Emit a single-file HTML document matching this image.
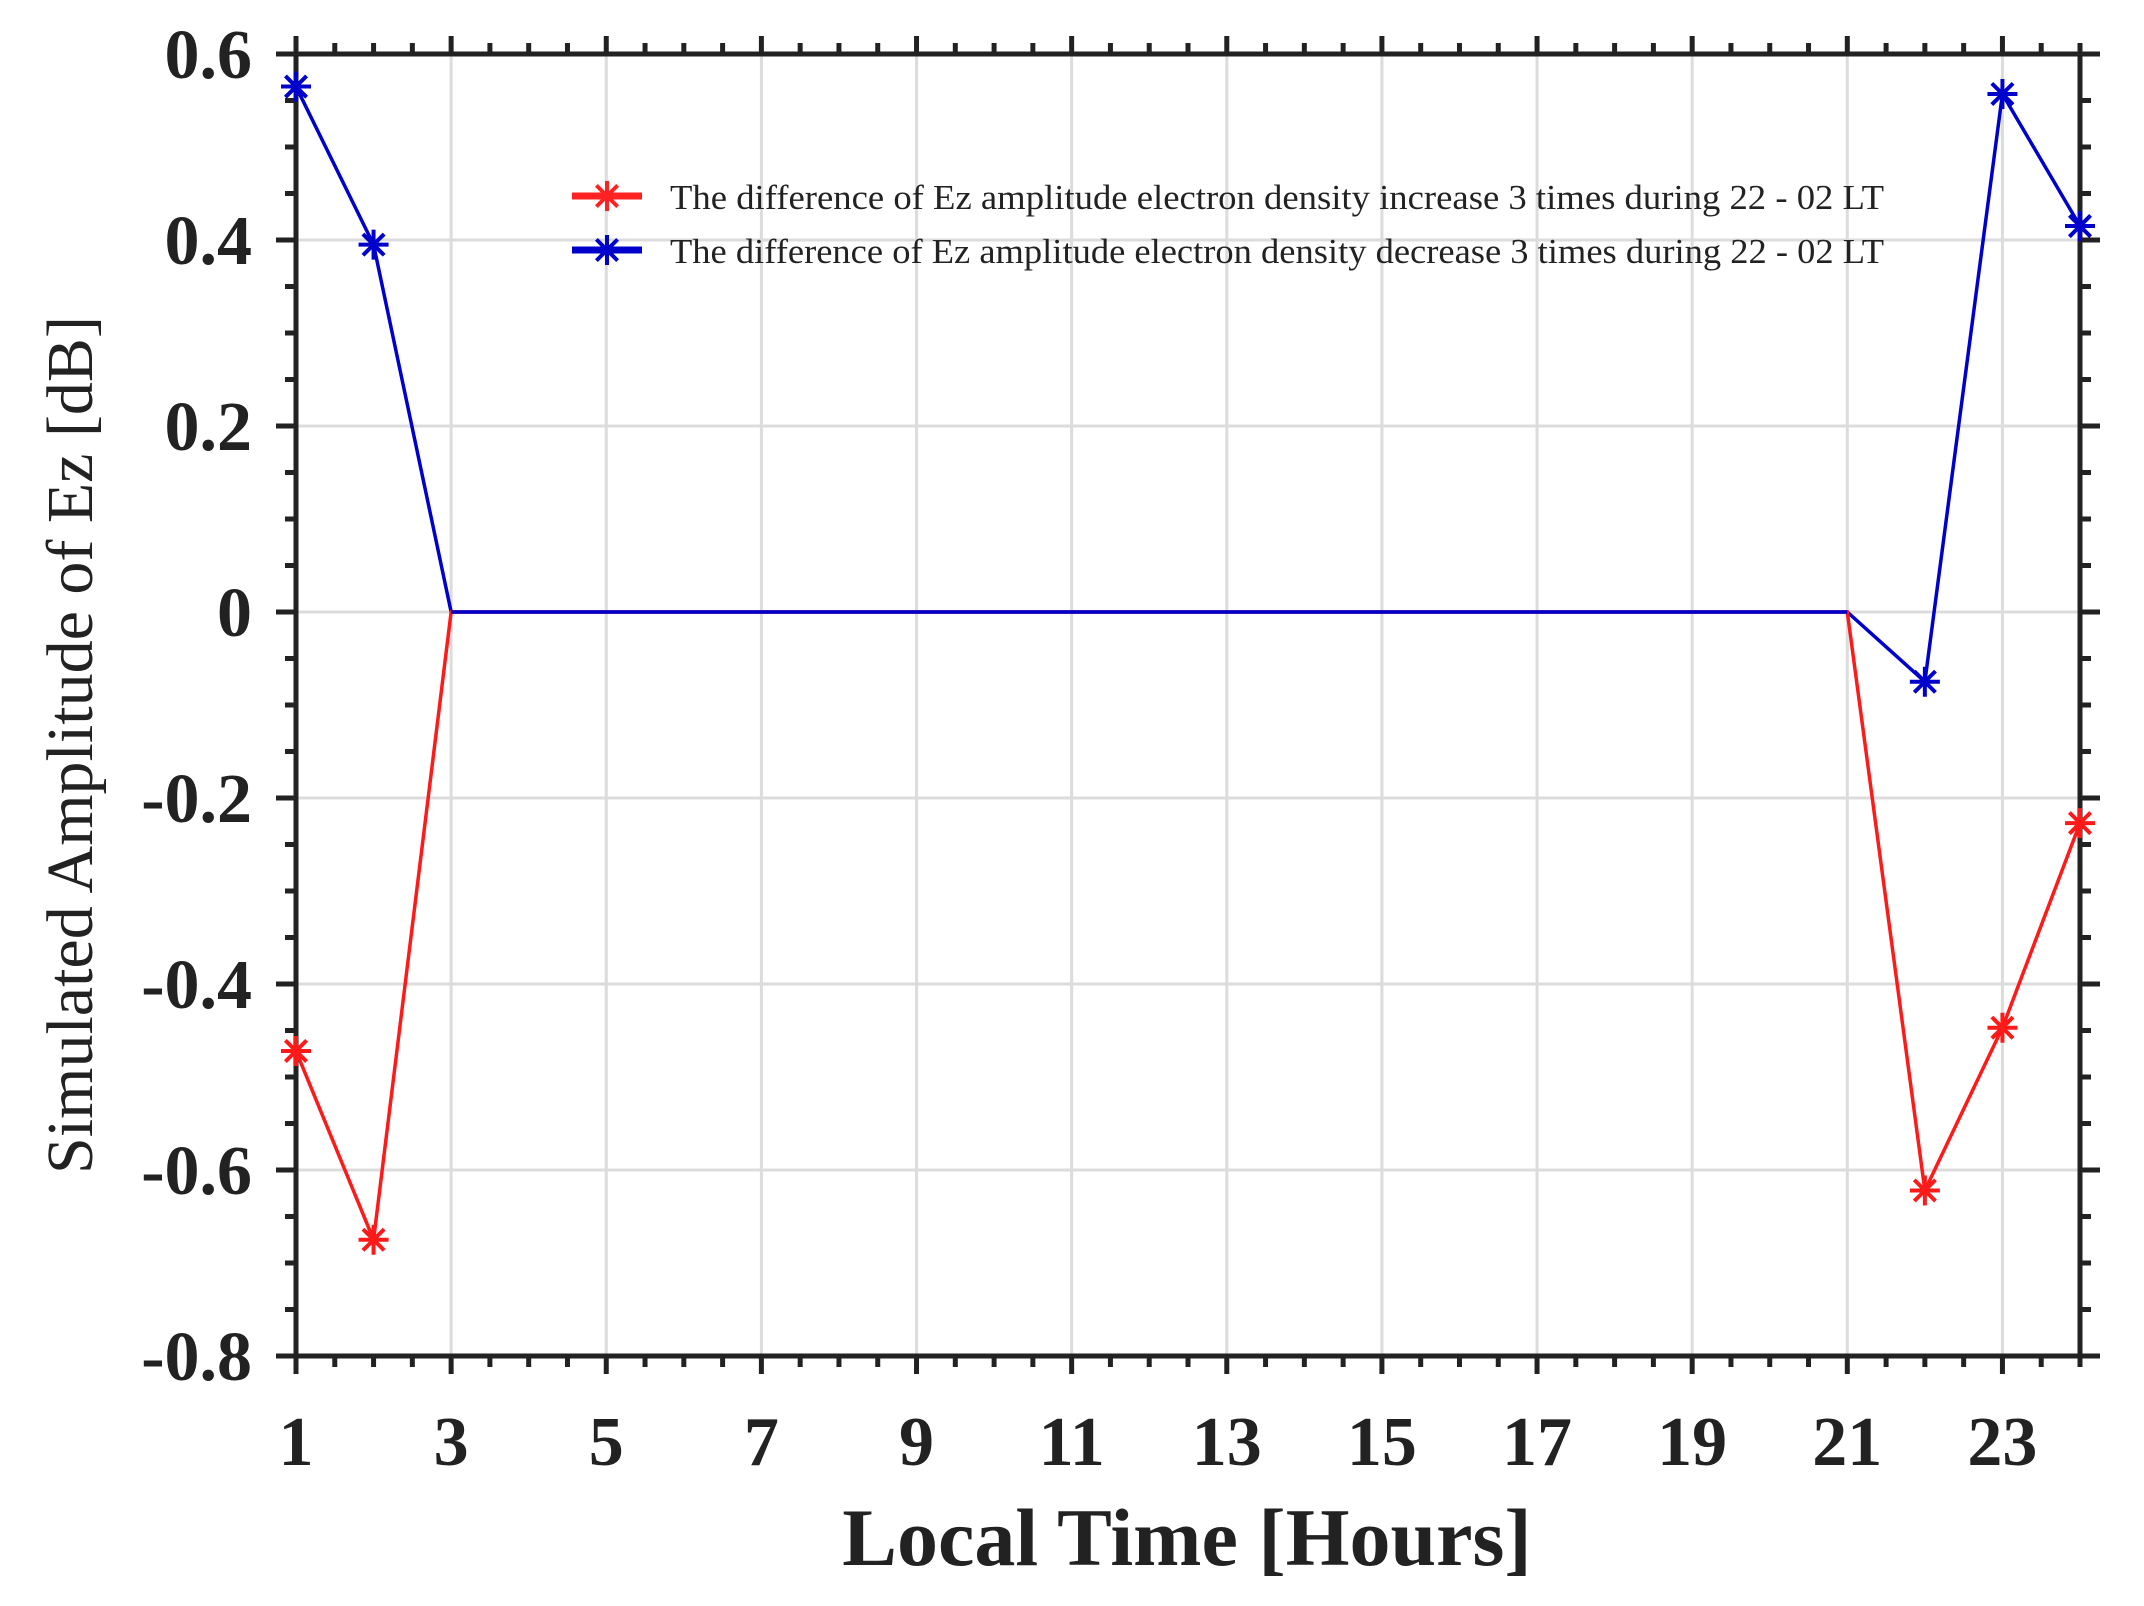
<!DOCTYPE html>
<html><head><meta charset="utf-8"><style>html,body{margin:0;padding:0;background:#fff}svg{display:block}</style></head>
<body>
<svg xmlns="http://www.w3.org/2000/svg" width="2144" height="1606" viewBox="0 0 2144 1606">
<g id="grid" stroke="#dcdcdc" stroke-width="3"></g>
<g id="ticks" stroke="#222" stroke-width="5"></g>
<rect x="296" y="54" width="1784" height="1302" fill="none" stroke="#222" stroke-width="5"/>
<g id="lab" font-family="Liberation Serif, serif" font-weight="bold" font-size="70" fill="#222"></g>
<g id="series"></g>
<text x="1187" y="1565" text-anchor="middle" font-family="Liberation Serif, serif" font-weight="bold" font-size="82" fill="#222">Local Time [Hours]</text>
<text transform="translate(92,745) rotate(-90)" text-anchor="middle" font-family="Liberation Serif, serif" font-size="66" fill="#222">Simulated Amplitude of Ez [dB]</text>
<line x1="572" y1="196" x2="642" y2="196" stroke="#f22" stroke-width="7"/>
<line x1="572" y1="250" x2="642" y2="250" stroke="#00c" stroke-width="7"/>
<g id="leg"></g>
<text x="670" y="209" font-family="Liberation Serif, serif" font-size="35" fill="#222" textLength="1214" lengthAdjust="spacingAndGlyphs">The difference of Ez amplitude electron density increase 3 times during 22 - 02 LT</text>
<text x="670" y="263" font-family="Liberation Serif, serif" font-size="35" fill="#222" textLength="1214" lengthAdjust="spacingAndGlyphs">The difference of Ez amplitude electron density decrease 3 times during 22 - 02 LT</text>
</svg>
<script>
const NS="http://www.w3.org/2000/svg";
const X=h=>296+(h-1)*(1784/23), Y=v=>54+(0.6-v)*930;
function el(p,t,a){const e=document.createElementNS(NS,t);for(const k in a)e.setAttribute(k,a[k]);document.getElementById(p).appendChild(e);return e;}
for(let h=3;h<=23;h+=2)el("grid","line",{x1:X(h),y1:56,x2:X(h),y2:1354});
for(let v=-0.6;v<0.55;v+=0.2)el("grid","line",{x1:298,y1:Y(v),x2:2078,y2:Y(v)});
for(let i=0;i<=46;i++){const h=1+i/2,x=X(h),L=(i%4==0)?18:11;
el("ticks","line",{x1:x,y1:1356,x2:x,y2:1356+L});el("ticks","line",{x1:x,y1:54,x2:x,y2:54-L});}
for(let i=0;i<=28;i++){const v=0.6-i*0.05,y=Y(v),L=(i%4==0)?20:11;
el("ticks","line",{x1:296,y1:y,x2:296-L,y2:y});el("ticks","line",{x1:2080,y1:y,x2:2080+L,y2:y});}
for(let h=1;h<=23;h+=2){const t=el("lab","text",{x:X(h),y:1465,"text-anchor":"middle"});t.textContent=h;}
const yl=["0.6","0.4","0.2","0","-0.2","-0.4","-0.6","-0.8"];
yl.forEach((s,i)=>{const t=el("lab","text",{x:252,y:54+i*186+24,"text-anchor":"end"});t.textContent=s;});
function star(p,x,y,col){for(let a=0;a<180;a+=45){const r=a*Math.PI/180,dx=15*Math.cos(r),dy=15*Math.sin(r);
el(p,"line",{x1:x-dx,y1:y-dy,x2:x+dx,y2:y+dy,stroke:col,"stroke-width":4});}}
function series(data,col){let pts=data.map(d=>X(d[0])+","+Y(d[1])).join(" ");
el("series","polyline",{points:pts,fill:"none",stroke:col,"stroke-width":3.5});
data.filter(d=>d[2]).forEach(d=>star("series",X(d[0]),Y(d[1]),col));}
series([[1,0.565,1],[2,0.395,1],[3,0],[21,0],[22,-0.075,1],[23,0.557,1],[24,0.415,1]],"#0000cc");
series([[1,-0.472,1],[2,-0.675,1],[3,0],[21,0],[22,-0.622,1],[23,-0.447,1],[24,-0.227,1]],"#ff1a1a");
el("series","line",{x1:X(3),y1:Y(0),x2:X(21),y2:Y(0),stroke:"#0000cc","stroke-width":3.5});
star("leg",607,196,"#f22");star("leg",607,250,"#00c");
</script>
</body></html>
